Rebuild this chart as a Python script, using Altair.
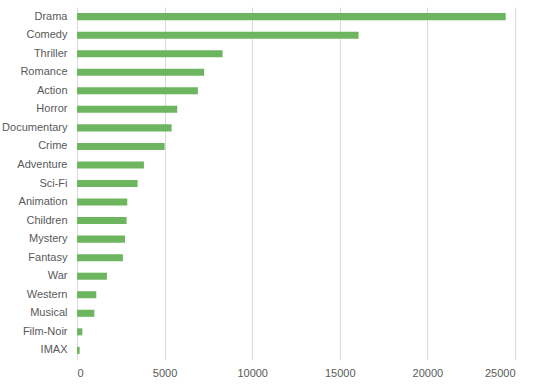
import altair as alt
import pandas as pd

genres = ["Drama", "Comedy", "Thriller", "Romance", "Action", "Horror", "Documentary",
          "Crime", "Adventure", "Sci-Fi", "Animation", "Children", "Mystery", "Fantasy",
          "War", "Western", "Musical", "Film-Noir", "IMAX"]
counts = [24470, 16070, 8310, 7260, 6900, 5720, 5400, 5000, 3820, 3460, 2870, 2830,
          2740, 2620, 1710, 1100, 990, 305, 152]
x_ticks = [0, 5000, 10000, 15000, 20000, 25000]

df = pd.DataFrame({"genre": genres, "count": counts})

chart = alt.Chart(df).mark_bar(color="#6db55f").encode(
    x=alt.X("count:Q", title=None,
            scale=alt.Scale(domain=[0, 25000], nice=False),
            axis=alt.Axis(values=x_ticks, format="d", grid=True, gridColor="#d9d9d9",
                          domain=False, ticks=False, labelPadding=7, labelFontSize=11,
                          labelColor="#595959", labelFont="Liberation Sans")),
    y=alt.Y("genre:N", title=None, sort=genres,
            scale=alt.Scale(paddingInner=0.62, paddingOuter=0.33),
            axis=alt.Axis(domain=False, ticks=False, grid=False, labelPadding=10,
                          labelFontSize=11, labelColor="#595959",
                          labelFont="Liberation Sans")),
).properties(
    width=438, height=353,
    autosize=alt.AutoSizeParams(type="none"),
    padding={"left": 77, "top": 7, "right": 22, "bottom": 26},
).configure_view(stroke=None)

chart.save("out.html", embed_options={"renderer": "svg", "actions": False})
